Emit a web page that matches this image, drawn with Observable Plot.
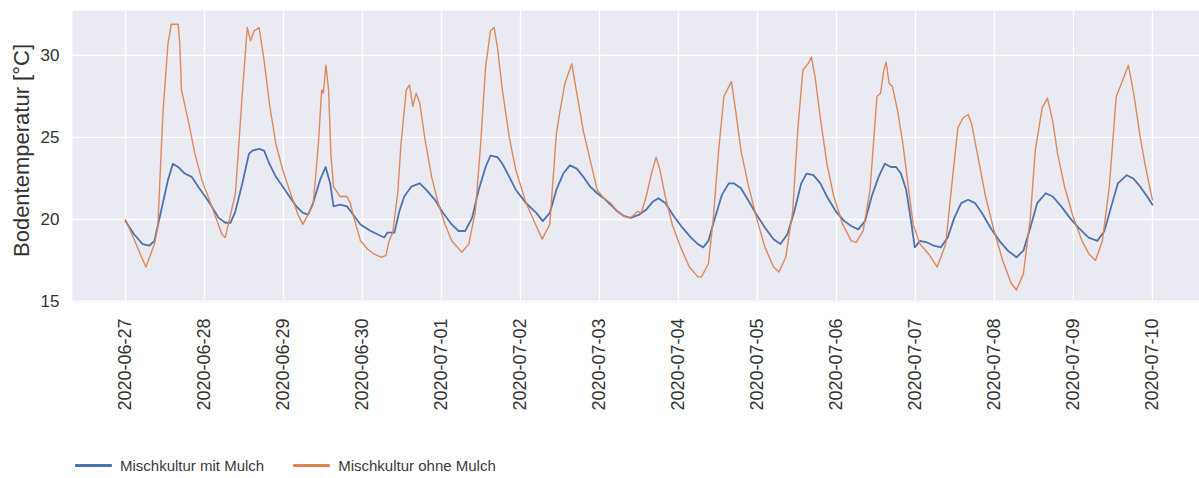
<!DOCTYPE html>
<html>
<head>
<meta charset="utf-8">
<script src="https://cdn.jsdelivr.net/npm/d3@7"></script>
<script src="https://cdn.jsdelivr.net/npm/@observablehq/plot@0.6"></script>
<style>
  html, body { margin: 0; padding: 0; background: #ffffff; }
  body { width: 1199px; height: 478px; position: relative; overflow: hidden; font-family: "Liberation Sans", Arial, sans-serif; }
  #chart { position: absolute; left: 0; top: 0; }
  #legend { position: absolute; left: 75px; top: 457px; display: flex; align-items: center; font-size: 15px; color: #3a3a3a; }
  .item { display: flex; align-items: center; margin-right: 29px; }
  .swatch { width: 37px; height: 3px; margin-right: 8px; border-radius: 1px; }
</style>
</head>
<body>
<div id="chart"></div>
<div id="legend"></div>
<script>
// Soil temperature, hours after 2020-06-27 00:00 (UTC) and °C
const startDate = "2020-06-27T00:00:00Z";

const seriesNames = ["Mischkultur mit Mulch", "Mischkultur ohne Mulch"];
const seriesColors = ["#4C72B0", "#DD8452"];

const mulchHours = [0, 2.6, 5.2, 7.2, 8.8, 10.8, 12.9, 14.4, 16.0, 18.0, 20.1, 22.1, 24.2, 26.2, 28.3, 30.3, 31.9,
  33.4, 35.5, 37.5, 38.6, 40.6, 42.1, 43.7, 45.7, 47.8, 49.8, 51.9, 53.9, 55.5, 57.0, 59.1, 60.8, 62.2, 63.2,
  65.2, 67.3, 68.8, 71.4, 74.5, 76.5, 78.6, 79.6, 81.7, 83.2, 84.7, 86.8, 89.4, 91.4, 94.0, 96.5, 99.1, 101.2,
  103.2, 105.3, 107.3, 109.4, 110.9, 113.0, 114.5, 116.6, 118.6, 121.7, 124.8, 126.8, 128.9, 130.9, 133.0, 135.0,
  137.1, 139.1, 141.2, 143.3, 145.3, 147.4, 149.4, 151.5, 153.5, 156.1, 158.2, 160.3, 161.9, 164.0, 166.6, 169.2,
  171.8, 173.9, 175.5, 177.1, 179.1, 181.2, 183.3, 184.9, 187.0, 189.1, 191.7, 194.3, 196.9, 199.0, 201.1, 203.2,
  205.3, 206.9, 209.0, 211.1, 213.1, 215.8, 218.4, 220.5, 222.6, 224.7, 226.7, 228.8, 230.7, 232.5, 234.1, 235.6,
  237.2, 238.8, 239.8, 241.4, 243.5, 245.6, 247.7, 249.8, 251.8, 253.9, 256.0, 258.1, 260.2, 262.8, 265.5, 268.1,
  270.7, 272.8, 274.9, 277.0, 279.6, 281.7, 284.3, 286.9, 289.5, 292.6, 295.3, 297.4, 299.5, 301.5, 304.2, 306.2,
  308.3, 310.4, 312.0];
const mulchValues = [19.9, 19.1, 18.5, 18.4, 18.7, 20.5, 22.4, 23.4, 23.2, 22.8, 22.6, 22.0, 21.4, 20.8, 20.1, 19.8, 19.8,
  20.5, 22.2, 24.0, 24.2, 24.3, 24.2, 23.4, 22.6, 22.0, 21.4, 20.8, 20.4, 20.3, 21.0, 22.4, 23.2, 22.2, 20.8,
  20.9, 20.8, 20.4, 19.7, 19.3, 19.1, 18.9, 19.2, 19.2, 20.5, 21.4, 22.0, 22.2, 21.8, 21.2, 20.4, 19.7, 19.3,
  19.3, 20.1, 21.8, 23.2, 23.9, 23.8, 23.4, 22.6, 21.8, 21.0, 20.4, 19.9, 20.4, 21.8, 22.8, 23.3,
  23.1, 22.6, 22.0, 21.6, 21.3, 20.9, 20.5, 20.2, 20.1, 20.3, 20.6, 21.1, 21.3, 21.0, 20.2, 19.5,
  18.9, 18.5, 18.3, 18.7, 20.1, 21.5, 22.2, 22.2, 21.9, 21.2, 20.3, 19.5, 18.8, 18.5, 19.1, 20.5,
  22.2, 22.8, 22.7, 22.2, 21.4, 20.5, 19.9, 19.6, 19.4, 19.9, 21.4, 22.6, 23.4, 23.2, 23.2, 22.8,
  21.8, 19.7, 18.3, 18.7, 18.6, 18.4, 18.3, 18.9, 20.1, 21.0, 21.2, 21.0, 20.4, 19.5, 18.7, 18.1,
  17.7, 18.1, 19.5, 21.0, 21.6, 21.4, 20.8, 20.1, 19.5, 18.9, 18.7, 19.3, 20.8, 22.2, 22.7, 22.5,
  22.0, 21.4, 20.9];

const bareHours = [0, 6.2, 8.8, 9.8, 11.4, 12.9, 13.9, 16.0, 16.5, 17.0, 19.1, 21.1, 23.2, 26.2, 29.3, 30.3,
  33.4, 35.5, 37.0, 38.0, 39.1, 40.6, 42.1, 43.7, 45.7, 47.8, 49.8, 52.4, 53.9, 57.0, 58.6, 59.6, 60.1, 60.9,
  61.7, 62.4, 63.2, 65.2, 67.3, 68.3, 69.4, 71.4, 73.5, 75.5, 77.6, 79.1, 80.1, 81.2, 82.7, 83.7, 85.3, 86.3,
  87.3, 88.3, 89.4, 90.9, 93.0, 95.0, 97.1, 99.1, 102.2, 104.3, 106.3, 107.9, 109.4, 110.9, 112.0, 113.0, 114.5,
  116.6, 118.6, 121.7, 124.8, 126.6, 128.9, 130.9, 132.0, 133.5, 135.6, 137.1, 139.1, 141.2, 143.3, 145.3, 147.4,
  149.4, 151.5, 153.5, 155.6, 156.7, 158.2, 159.8, 161.2, 162.4, 164.0, 166.1, 168.7, 171.3, 173.9, 175.0, 177.1,
  178.6, 180.2, 181.8, 183.3, 184.1, 185.4, 187.0, 189.1, 191.7, 194.3, 196.9, 198.5, 200.6, 202.7, 204.3, 205.8,
  207.4, 208.4, 209.5, 211.1, 213.1, 215.2, 217.9, 220.5, 222.0, 224.1, 226.2, 228.3, 229.4, 230.4, 231.1, 232.0,
  233.0, 234.6, 236.2, 237.7, 239.3, 241.4, 244.0, 246.6, 249.2, 251.3, 252.9, 254.5, 256.0, 257.1, 259.2, 261.3,
  263.9, 266.5, 269.1, 270.7, 272.8, 274.9, 276.4, 278.5, 280.1, 281.7, 283.2, 285.3, 288.0, 290.6, 292.7, 294.7,
  296.8, 298.9, 301.0, 302.6, 304.7, 306.3, 308.3, 309.9, 312.0];
const bareValues = [20.0, 17.1, 18.5, 19.5, 26.6, 30.7, 31.9, 31.9, 30.7, 27.9, 26.0, 24.0, 22.4, 20.8, 19.1, 18.9,
  21.6, 27.7, 31.7, 30.9, 31.5, 31.7, 29.7, 27.1, 24.6, 23.0, 21.8, 20.3, 19.7, 20.9, 24.6, 27.9, 27.7, 29.4,
  27.9, 24.0, 22.0, 21.4, 21.4, 21.0, 20.1, 18.7, 18.2, 17.9, 17.7, 17.8, 18.7, 19.2, 21.6, 24.6, 27.9, 28.2,
  26.9, 27.7, 27.1, 25.0, 22.6, 21.0, 19.7, 18.7, 18.0, 18.5, 20.5, 24.6, 29.3, 31.5, 31.7, 30.5, 27.9,
  25.0, 23.0, 21.0, 19.6, 18.8, 19.7, 25.2, 26.6, 28.3, 29.5, 27.7, 25.4, 23.6, 21.8, 21.3, 21.0,
  20.5, 20.2, 20.1, 20.5, 20.4, 21.4, 22.8, 23.8, 23.0, 21.4, 19.7, 18.3, 17.1, 16.5, 16.5, 17.3,
  20.1, 24.2, 27.5, 28.1, 28.4, 26.6, 24.2, 22.2, 20.1, 18.3, 17.1, 16.8, 17.7, 20.5, 25.6, 29.1,
  29.5, 29.9, 28.7, 26.2, 23.4, 21.4, 19.7, 18.7, 18.6, 19.3, 21.8, 27.5, 27.7, 29.1, 29.6, 28.3,
  28.1, 26.6, 24.6, 22.2, 19.7, 18.5, 17.9, 17.1, 18.5, 22.6, 25.6, 26.2, 26.4, 25.8, 23.6, 21.4,
  19.3, 17.5, 16.1, 15.7, 16.7, 20.1, 24.2, 26.8, 27.4, 26.0, 24.0, 22.0, 20.1, 18.7, 17.9, 17.5,
  18.7, 22.0, 27.5, 28.3, 29.4, 27.7, 25.0, 23.2, 21.2];

const tickLabels = ["2020-06-27", "2020-06-28", "2020-06-29", "2020-06-30", "2020-07-01", "2020-07-02", "2020-07-03",
  "2020-07-04", "2020-07-05", "2020-07-06", "2020-07-07", "2020-07-08", "2020-07-09", "2020-07-10"];
const yTicks = [15, 20, 25, 30];

const t0 = new Date(startDate).getTime();
const toRows = (hours, values, name) => hours.map((h, i) => ({date: new Date(t0 + h * 3600e3), value: values[i], series: name}));
const rows = [
  ...toRows(mulchHours, mulchValues, seriesNames[0]),
  ...toRows(bareHours, bareValues, seriesNames[1])
];
const tickDates = tickLabels.map(s => new Date(s + "T00:00:00Z"));

const fmt = d3.utcFormat("%Y-%m-%d");

const chart = Plot.plot({
  width: 1199,
  height: 430,
  marginTop: 10,
  marginBottom: 128,
  marginLeft: 72,
  marginRight: 0,
  style: {fontFamily: "Liberation Sans, Arial, sans-serif", color: "#333333", background: "#ffffff"},
  x: {type: "utc", domain: [new Date(t0 - 16.1 * 3600e3), new Date(t0 + (312 + 14.3) * 3600e3)]},
  y: {domain: [14.94, 32.74]},
  color: {domain: seriesNames, range: seriesColors},
  marks: [
    Plot.frame({fill: "#EAEAF2", stroke: null}),
    Plot.gridX(tickDates, {stroke: "#ffffff", strokeOpacity: 1, strokeWidth: 1.3}),
    Plot.gridY(yTicks, {stroke: "#ffffff", strokeOpacity: 1, strokeWidth: 1.3}),
    Plot.lineY(rows.filter(d => d.series === seriesNames[0]), {x: "date", y: "value", stroke: seriesColors[0], strokeWidth: 1.8}),
    Plot.lineY(rows.filter(d => d.series === seriesNames[1]), {x: "date", y: "value", stroke: seriesColors[1], strokeWidth: 1.4, strokeOpacity: 0.95}),
    Plot.axisX(tickDates, {tickFormat: fmt, tickRotate: -90, tickSize: 0, tickPadding: 16, fontSize: 18, label: null}),
    Plot.axisY(yTicks, {tickSize: 0, tickPadding: 13, fontSize: 17, label: null}),
    Plot.text(["Bodentemperatur [°C]"], {frameAnchor: "left", dx: -51, dy: -6, rotate: -90, fontSize: 22, fill: "#333333", textAnchor: "middle", lineAnchor: "middle"})
  ]
});
document.getElementById("chart").appendChild(chart);

// Legend below the chart
const legend = document.getElementById("legend");
seriesNames.forEach((name, i) => {
  const item = document.createElement("div");
  item.className = "item";
  const sw = document.createElement("div");
  sw.className = "swatch";
  sw.style.background = seriesColors[i];
  const label = document.createElement("span");
  label.textContent = name;
  item.appendChild(sw);
  item.appendChild(label);
  legend.appendChild(item);
});
</script>
</body>
</html>
